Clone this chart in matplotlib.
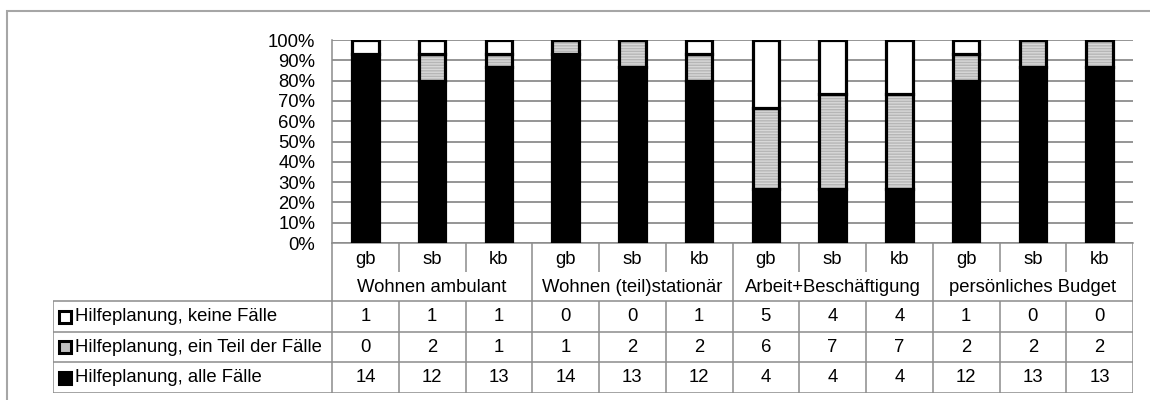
import matplotlib.pyplot as plt
from matplotlib.patches import Rectangle
from matplotlib.ticker import FuncFormatter

plt.rcParams['font.family'] = ['Liberation Sans', 'DejaVu Sans']

# counts per area and rating group
groups = ['Wohnen ambulant', 'Wohnen (teil)stationär', 'Arbeit+Beschäftigung', 'persönliches Budget']
subgroups = ['gb', 'sb', 'kb']
keine = [1, 1, 1, 0, 0, 1, 5, 4, 4, 1, 0, 0]
teil = [0, 2, 1, 1, 2, 2, 6, 7, 7, 2, 2, 2]
alle = [14, 12, 13, 14, 13, 12, 4, 4, 4, 12, 13, 13]
series_labels = ['Hilfeplanung, keine Fälle',
                 'Hilfeplanung, ein Teil der Fälle',
                 'Hilfeplanung, alle Fälle']

W, H = 1150, 400
FS = 13.3
GRID = '#8c8c8c'

n = len(alle)
xs = list(range(n))
totals = [a + b + c for a, b, c in zip(keine, teil, alle)]
p_alle = [v / t * 100 for v, t in zip(alle, totals)]
p_teil = [v / t * 100 for v, t in zip(teil, totals)]
p_keine = [v / t * 100 for v, t in zip(keine, totals)]

fig = plt.figure(figsize=(W / 100, H / 100), dpi=100)

# chart-area frame
fig.patches.append(Rectangle((7 / W, -0.2), 1.2, (H - 11) / H + 0.2,
                             transform=fig.transFigure, fill=False,
                             edgecolor='#a6a6a6', lw=1.5))

ax = fig.add_axes([332 / W, (H - 243) / H, (1133 - 332) / W, 203 / H])
bw = 0.40
lw = 2.3
bot2 = p_alle
bot3 = [a + b for a, b in zip(p_alle, p_teil)]
ax.bar(xs, p_alle, bw, color='black', edgecolor='black', lw=lw, zorder=3)
# dotted grey fill, then its outline
ax.bar(xs, p_teil, bw, bottom=bot2, color='#d8d8d8', edgecolor='#b6b6b6',
       hatch='------', lw=0, zorder=3)
ax.bar(xs, p_teil, bw, bottom=bot2, fill=False, edgecolor='black', lw=lw, zorder=4)
ax.bar(xs, p_keine, bw, bottom=bot3, color='white', edgecolor='black', lw=lw, zorder=4)

ax.set_xlim(-0.5, n - 0.5)
ax.set_ylim(0, 100)
ax.set_yticks(range(0, 101, 10))
ax.yaxis.set_major_formatter(FuncFormatter(lambda v, _: f'{v:.0f}%'))
ax.tick_params(axis='y', length=0, pad=12, labelsize=FS)
ax.set_xticks([])
ax.yaxis.grid(True, color=GRID, lw=1.3)
ax.set_axisbelow(True)
for s in ['top', 'right']:
    ax.spines[s].set_visible(False)
for s in ['left', 'bottom']:
    ax.spines[s].set_color(GRID)
    ax.spines[s].set_linewidth(1.1)

# data table below the bars, same x units, y in pixels downward
unit = (1133 - 332) / n
label_w = (332 - 53) / unit
tab = fig.add_axes([53 / W, (H - 393) / H, (1133 - 53) / W, 150 / H])
tab.set_xlim(-0.5 - label_w, n - 0.5)
tab.set_ylim(150, 0)
tab.axis('off')

row_top = 58
rows = [58, 89, 119, 150]
x0 = -0.5 - label_w
kw = dict(color=GRID, lw=1.1, solid_capstyle='butt')

for i, x in enumerate(xs):
    tab.text(x, 16, subgroups[i % 3], ha='center', va='center', fontsize=FS)
for g, name in enumerate(groups):
    tab.text(3 * g + 1, 45, name, ha='center', va='center', fontsize=FS)

for k in range(n + 1):
    xb = k - 0.5
    if k % 3 == 0:
        tab.plot([xb, xb], [0, 150], **kw)
    else:
        tab.plot([xb, xb], [0, 29], **kw)
        tab.plot([xb, xb], [row_top, 150], **kw)
tab.plot([x0, x0], [row_top, 150], **kw)
for y in rows:
    tab.plot([x0, n - 0.5], [y, y], **kw)

table_rows = [keine, teil, alle]
key_colors = ['white', '#c0c0c0', 'black']
for r, (vals, lab, kc) in enumerate(zip(table_rows, series_labels, key_colors)):
    yc = (rows[r] + rows[r + 1]) / 2
    tab.plot([x0 + 12 / unit], [yc], marker='s', ms=8.5, mfc=kc, mec='black',
             mew=2.2, clip_on=False)
    tab.text(x0 + 21.5 / unit, yc, lab, ha='left', va='center', fontsize=FS)
    for x, v in zip(xs, vals):
        tab.text(x, yc, str(v), ha='center', va='center', fontsize=FS)

fig.savefig('out.png', dpi=100)
